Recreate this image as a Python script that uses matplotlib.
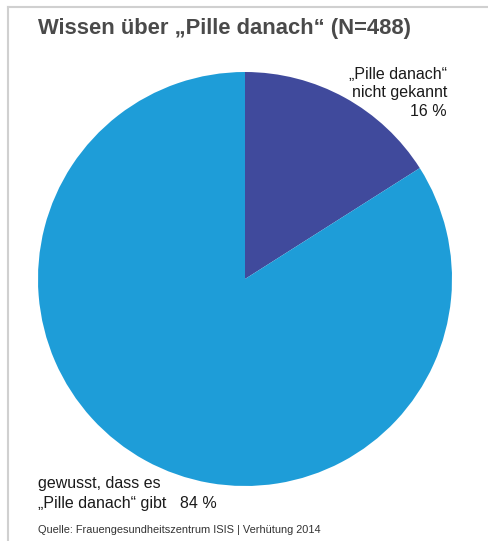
import matplotlib
matplotlib.use("Agg")
import matplotlib.pyplot as plt
from matplotlib.lines import Line2D

title = "Wissen über „Pille danach“ (N=488)"
categories = ["„Pille danach“\nnicht gekannt\n16 %", "gewusst, dass es\n„Pille danach“ gibt   84 %"]
values = [16, 84]
colors = ["#404A9C", "#1E9DD8"]
source = "Quelle: Frauengesundheitszentrum ISIS | Verhütung 2014"

W, H = 489, 541
fig = plt.figure(figsize=(W / 100, H / 100), dpi=100)
plt.rcParams['font.family'] = ['Liberation Sans', 'DejaVu Sans']

def fx(x):
    return x / W

def fy(y):
    return 1 - y / H

# frame lines (top and left)
fig.add_artist(Line2D([fx(8), 1], [fy(7), fy(7)], color="#d0d0d0", lw=1.5, transform=fig.transFigure))
fig.add_artist(Line2D([fx(8), fx(8)], [fy(7), 0], color="#d0d0d0", lw=1.5, transform=fig.transFigure))

cx, cy, r = 245, 279, 207
ax = fig.add_axes([fx(cx - r), fy(cy + r), 2 * r / W, 2 * r / H])
ax.pie(values, colors=colors, startangle=90, counterclock=False,
       wedgeprops=dict(linewidth=0))
ax.set_xlim(-1, 1)
ax.set_ylim(-1, 1)
ax.axis("off")

fig.text(fx(38), fy(28.5), title, fontsize=15.8, fontweight="bold", color="#4a4a4a",
         ha="left", va="center")
fig.text(fx(447), fy(93), categories[0], fontsize=11.5, color="#1a1a1a",
         ha="right", va="center", multialignment="right", linespacing=1.32)
fig.text(fx(38), fy(493.5), categories[1], fontsize=11.5, color="#1a1a1a",
         ha="left", va="center", multialignment="left", linespacing=1.38)
fig.text(fx(38), fy(530), source, fontsize=7.9, color="#333333",
         ha="left", va="center")

fig.savefig("out.png", dpi=100)
